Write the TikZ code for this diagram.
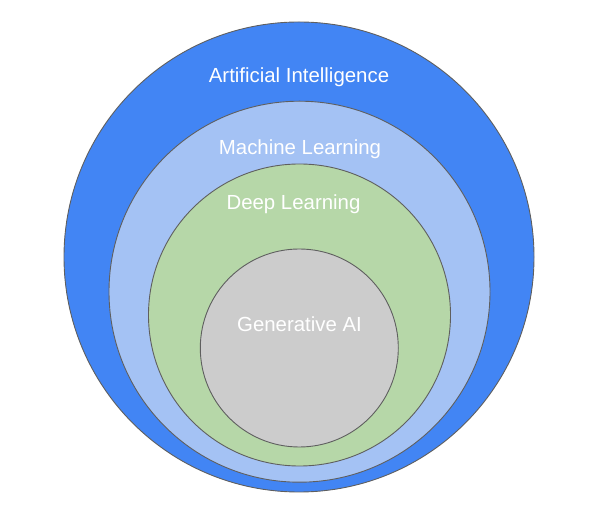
\documentclass[tikz,border=0pt]{standalone}
\usepackage{fontspec}
\setmainfont{Liberation Sans}
\usepackage{tikz}
\usepackage{xcolor}
\usetikzlibrary{positioning}
\definecolor{cAI}{HTML}{4285F4}
\definecolor{cML}{HTML}{A4C2F4}
\definecolor{cDL}{HTML}{B6D7A8}
\definecolor{cGen}{HTML}{CCCCCC}
\definecolor{cEdge}{HTML}{5F5F5F}
\tikzset{
	ring/.style ={circle, draw=cEdge, line width=0.9pt, inner sep=0pt},
	tag/.style  ={anchor=base, text=white, inner sep=0pt, font=\fontsize{20.4}{24}\selectfont},
}

\begin{document}
\begin{tikzpicture}[x=1pt, y=1pt]
	\useasboundingbox (0,0) rectangle (605,519);
	% nested fields, outermost first
	\node[ring, fill=cAI,  minimum size=470pt] (ai)  at (299,262)   {};
	\node[ring, fill=cML,  minimum size=381pt] (ml)  at (299.5,227.3) {};
	\node[ring, fill=cDL,  minimum size=302pt] (dl)  at (299.5,204) {};
	\node[ring, fill=cGen, minimum size=198pt] (gen) at (299.3,171) {};
	% labels
	\node[tag] (aiText)  at (299,436)   {Artificial Intelligence};
	\node[tag] (mlText)  at (300,364)   {Machine Learning};
	\node[tag] (dlText)  at (293.5,309) {Deep Learning};
	\node[tag] (genText) at (299.5,187.3) {Generative AI};
\end{tikzpicture}
\end{document}
